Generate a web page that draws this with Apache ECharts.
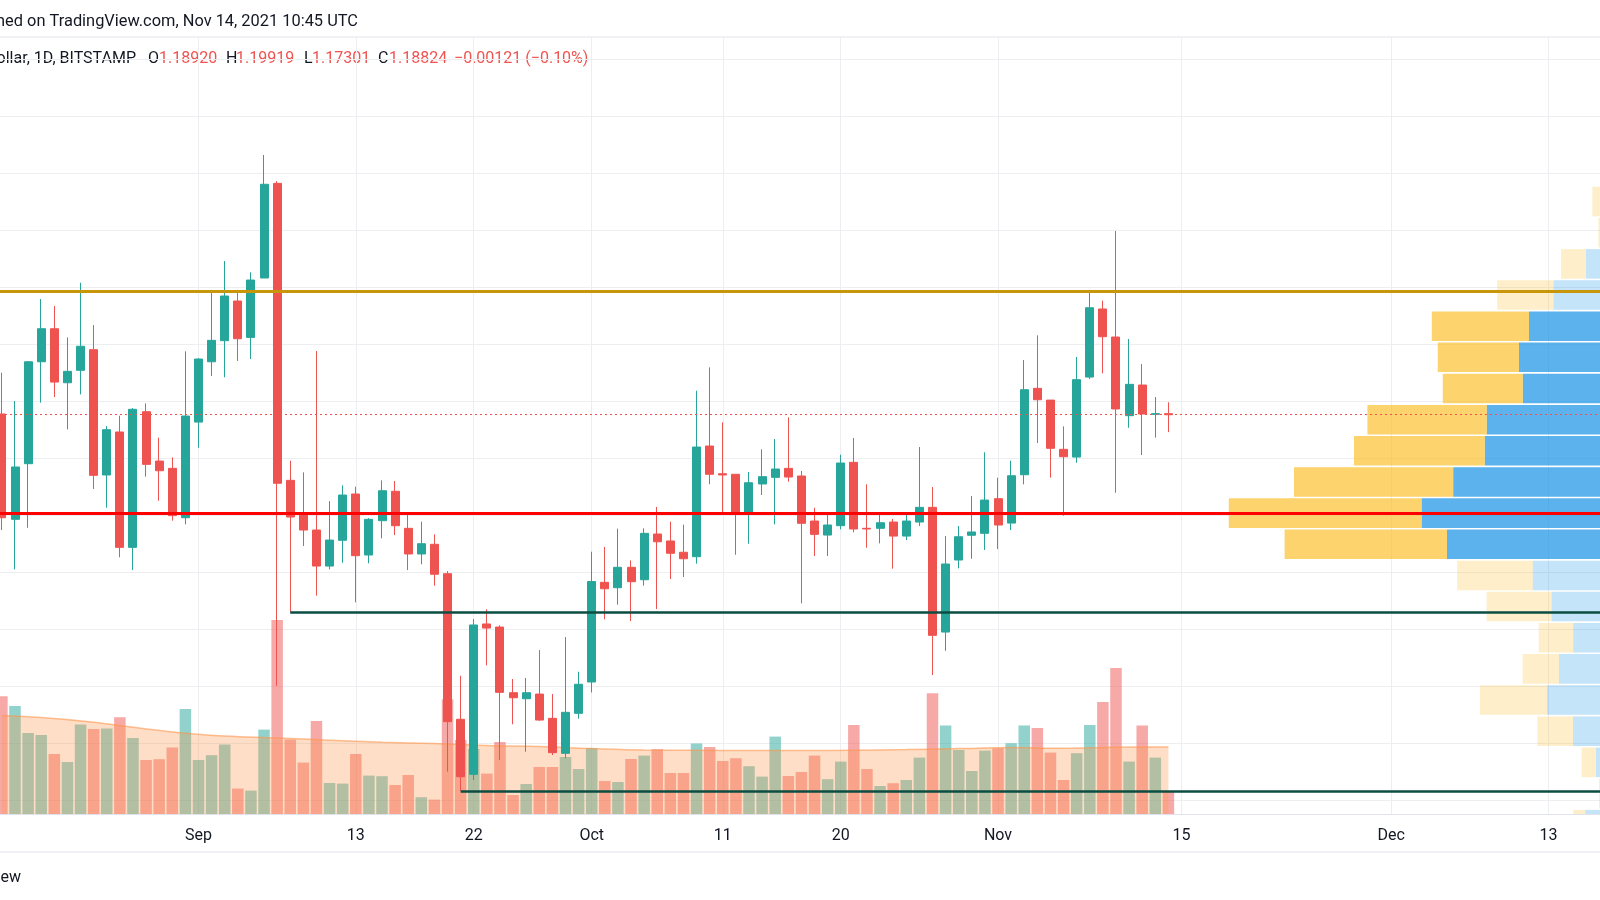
<!DOCTYPE html>
<html><head><meta charset="utf-8">
<script src="https://cdn.jsdelivr.net/npm/echarts@6/dist/echarts.min.js"></script>
<style>html,body{margin:0;padding:0;background:#fff}#chart{width:1600px;height:900px}</style>
</head><body><div id="chart"></div>
<script>
// ---------- data ----------
const dates = [
 '2021-08-17','2021-08-18','2021-08-19','2021-08-20','2021-08-21','2021-08-22','2021-08-23','2021-08-24','2021-08-25','2021-08-26','2021-08-27','2021-08-28','2021-08-29','2021-08-30','2021-08-31',
 '2021-09-01','2021-09-02','2021-09-03','2021-09-04','2021-09-05','2021-09-06','2021-09-07','2021-09-08','2021-09-09','2021-09-10','2021-09-11','2021-09-12','2021-09-13','2021-09-14','2021-09-15',
 '2021-09-16','2021-09-17','2021-09-18','2021-09-19','2021-09-20','2021-09-21','2021-09-22','2021-09-23','2021-09-24','2021-09-25','2021-09-26','2021-09-27','2021-09-28','2021-09-29','2021-09-30',
 '2021-10-01','2021-10-02','2021-10-03','2021-10-04','2021-10-05','2021-10-06','2021-10-07','2021-10-08','2021-10-09','2021-10-10','2021-10-11','2021-10-12','2021-10-13','2021-10-14','2021-10-15',
 '2021-10-16','2021-10-17','2021-10-18','2021-10-19','2021-10-20','2021-10-21','2021-10-22','2021-10-23','2021-10-24','2021-10-25','2021-10-26','2021-10-27','2021-10-28','2021-10-29','2021-10-30','2021-10-31',
 '2021-11-01','2021-11-02','2021-11-03','2021-11-04','2021-11-05','2021-11-06','2021-11-07','2021-11-08','2021-11-09','2021-11-10','2021-11-11','2021-11-12','2021-11-13','2021-11-14'];

const opens = [
 1.1889,1.0965,1.1453,1.2347,1.2637,1.2163,1.2272,1.2453,1.1354,1.1731,1.0719,1.1909,1.1476,1.1412,1.0979,
 1.1818,1.2347,1.2532,1.2880,1.2561,1.3082,1.3912,1.1307,1.1011,1.0871,1.0555,1.0781,1.1187,1.0652,1.0953,
 1.1211,1.0886,1.0661,1.0746,1.0488,0.9211,0.8728,1.0047,1.0020,0.9444,0.9391,0.9432,0.9219,0.8912,0.9263,
 0.9538,1.0412,1.0365,1.0544,1.0435,1.0836,1.0775,1.0676,1.0637,1.1608,1.1365,1.1360,1.1014,1.1275,1.1333,
 1.1412,1.1345,1.0950,1.0827,1.0909,1.1465,1.0886,1.0886,1.0941,1.0818,1.0941,1.1070,0.9976,1.0608,1.0825,1.0842,
 1.1146,1.0932,1.1356,1.2114,1.2011,1.1579,1.1511,1.2213,1.2810,1.2564,1.1874,1.2143,1.1886,1.18920];
const closes = [
 1.0979,1.1424,1.2347,1.2637,1.2169,1.2263,1.2483,1.1351,1.1751,1.0719,1.1930,1.1447,1.1391,1.0997,1.1871,
 1.2371,1.2535,1.2924,1.2549,1.3064,1.3904,1.1281,1.0985,1.0871,1.0555,1.0783,1.1178,1.0646,1.0965,1.1216,
 1.0909,1.0661,1.0751,1.0483,0.9190,0.8707,1.0038,1.0011,0.9447,0.9400,0.9444,0.9204,0.8918,0.9272,0.9518,
 1.0419,1.0356,1.0544,1.0418,1.0842,1.0768,1.0667,1.0619,1.1599,1.1360,1.1354,1.1018,1.1286,1.1339,1.1406,
 1.1336,1.0930,1.0833,1.0915,1.1459,1.0880,1.0880,1.0935,1.0818,1.0950,1.1070,0.9947,1.0573,1.0812,1.0854,1.1134,
 1.0915,1.1347,1.2102,1.2014,1.1588,1.1514,1.2190,1.2821,1.2567,1.1933,1.2149,1.1889,1.1892,1.18824];
const highs = [
 1.2251,1.2003,1.2354,1.2897,1.2836,1.2561,1.3040,1.2669,1.1783,1.1874,1.1941,1.1982,1.1681,1.1509,1.2439,
 1.2377,1.2961,1.3231,1.2961,1.3132,1.4161,1.3932,1.1479,1.1377,1.2441,1.1125,1.1263,1.1251,1.0976,1.1307,
 1.1301,1.1026,1.0944,1.0833,1.0511,0.9593,1.0090,1.0176,1.0035,0.9564,0.9573,0.9818,0.9432,0.9932,0.9628,
 1.0681,1.0722,1.0883,1.0605,1.0886,1.1073,1.0944,1.0918,1.2093,1.2298,1.1816,1.1360,1.1380,1.1579,1.1669,
 1.1860,1.1389,1.1067,1.1009,1.1532,1.1678,1.1272,1.1011,1.0968,1.1029,1.1599,1.1248,1.0818,1.0906,1.1169,1.1553,
 1.1330,1.1479,1.2362,1.2579,1.2011,1.1781,1.2389,1.2965,1.2883,1.3494,1.2547,1.2327,1.2038,1.19919];
const lows = [
 1.0871,1.0526,1.0891,1.1988,1.2038,1.1754,1.2061,1.1231,1.1067,1.0632,1.0520,1.1339,1.1128,1.0953,1.0921,
 1.1593,1.2222,1.2211,1.2354,1.2371,1.3082,0.9503,1.0150,1.0731,1.0295,1.0526,1.0584,1.0237,1.0579,1.0798,
 1.0827,1.0520,1.0570,1.0383,0.8751,0.8582,0.8678,0.9684,0.8854,0.9167,0.8926,0.9198,0.8897,0.8868,0.9216,
 0.9446,1.0088,1.0216,1.0073,1.0383,1.0178,1.0441,1.0459,1.0576,1.1272,1.1018,1.0654,1.0751,1.1178,1.0921,
 1.1295,1.0228,1.0643,1.0643,1.0877,1.0851,1.0716,1.0754,1.0532,1.0783,1.0906,0.9599,0.9812,1.0535,1.0619,1.0696,
 1.0704,1.0871,1.1272,1.1634,1.1330,1.0997,1.1461,1.2196,1.2246,1.1198,1.1768,1.1529,1.1681,1.17301];
// daily volume, millions
const volumes = [
 58.9,54.0,40.5,39.5,30.0,26.0,44.7,42.5,42.7,48.4,38.0,27.0,27.4,33.2,52.5,
 27.0,29.4,34.7,12.7,11.7,42.2,97.0,37.2,25.7,46.5,15.5,15.2,30.0,19.2,18.9,
 14.5,19.5,8.4,7.2,57.4,37.0,32.5,20.2,36.0,9.5,15.0,23.5,23.5,28.5,22.5,
 33.0,16.5,16.0,27.5,29.2,32.4,20.5,20.5,35.2,33.5,26.5,27.9,23.9,18.7,38.7,
 19.0,21.0,29.2,17.4,26.2,44.5,22.5,14.0,15.4,17.0,28.2,60.4,44.2,32.0,21.5,31.7,
 32.9,35.4,44.2,43.0,30.7,17.0,30.4,44.5,56.0,73.0,26.2,44.2,28.2,11.5];
// volume moving average, read at these dates
const maDates = ['2021-08-17','2021-08-20','2021-08-24','2021-08-27','2021-08-31','2021-09-03','2021-09-07','2021-09-11','2021-09-15','2021-09-19','2021-09-23','2021-09-27',
 '2021-10-01','2021-10-05','2021-10-09','2021-10-13','2021-10-17','2021-10-21','2021-10-25','2021-10-29','2021-11-02','2021-11-06','2021-11-10','2021-11-14'];
const maValues = [49.2,48.2,45.9,43.4,40.4,39.0,38.0,36.9,35.9,35.2,34.2,33.7,32.7,32.0,31.9,31.7,31.7,31.9,32.2,32.7,33.2,32.9,33.4,33.5];

const tickDates = ['2021-09-01','2021-09-13','2021-09-22','2021-10-01','2021-10-11','2021-10-20','2021-11-01','2021-11-15','2021-12-01','2021-12-13'];
const tickLabels = ['Sep','13','22','Oct','11','20','Nov','15','Dec','13'];
const priceGridLevels = [0.85,0.90,0.95,1.00,1.05,1.10,1.15,1.20,1.25,1.30,1.35,1.40,1.45,1.50];

const resistanceLevel = 1.2970;
const pivotLevel = 1.1018;
const supportLevel1 = 1.0150, supportStart1 = '2021-09-08';
const supportLevel2 = 0.8582, supportStart2 = '2021-09-21';
const lastClose = 1.18824;

// visible-range volume profile (rows from top to bottom), millions
const profileTopPrice = 1.3889;
const profileRowStep = 0.02733;
const profileUp =   [0,0,3.5,11.6,17.75,20.25,19.3,28.3,28.8,36.7,44.6,38.25,16.8,12.1,6.7,10.25,13.25,6.75,1.0,0,3.7];
const profileDown = [1.9,0.4,6.25,14.1,24.3,20.3,20.0,29.85,32.7,39.8,48.2,40.6,18.9,16.25,8.6,9.1,16.75,8.9,3.6,0.25,3.0];
const profileValueArea = [0,0,0,0,1,1,1,1,1,1,1,1,0,0,0,0,0,0,0,0,0];

const headerTitle = 'Published on TradingView.com, Nov 14, 2021 10:45 UTC';
const symbolTitle = 'XRP / U.S. Dollar, 1D, BITSTAMP';
const ohlcKeys = ['O','H','L','C'];
const ohlcValues = ['1.18920','1.19919','1.17301','1.18824'];
const changeText = '\u22120.00121 (\u22120.10%)';
const footerText = 'TradingView';

// ---------- chart ----------
const DAY = 86400000;
const ts = d => Date.parse(d + 'T00:00:00Z');
const SEP1 = ts('2021-09-01');
const X_MIN = SEP1 - 15.145 * DAY, X_MAX = SEP1 + 106.928 * DAY;
const PRICE_MIN = 0.8380, PRICE_MAX = 1.5196;
const VOL_MAX = 388.5;
const UP = '#26a69a', DOWN = '#ef5350';
const FONT = 'Roboto, "Noto Sans", sans-serif';

const candleData = dates.map((d, i) => [ts(d), opens[i], closes[i], lows[i], highs[i]]);
const volData = dates.map((d, i) => ({
  value: [ts(d), volumes[i]],
  itemStyle: { color: closes[i] >= opens[i] ? 'rgba(38,166,154,0.5)' : 'rgba(239,83,80,0.5)' }
}));
const maData = maDates.map((d, i) => [ts(d), maValues[i]]);
const profileData = profileUp.map((u, i) => [i, u, profileDown[i], profileValueArea[i]]);
const tickTs = tickDates.map(ts);

const chart = echarts.init(document.getElementById('chart'), null, { renderer: 'canvas' });

const LINE2_Y = 59;
const headerGraphics = [
  { type: 'line', shape: { x1: 0, y1: 37, x2: 1600, y2: 37 }, style: { stroke: '#e0e3eb', lineWidth: 1 }, silent: true },
  { type: 'line', shape: { x1: 0, y1: 852, x2: 1600, y2: 852 }, style: { stroke: '#e0e3eb', lineWidth: 1 }, silent: true },
  { type: 'text', x: 358, y: 22, style: { text: headerTitle, font: '16.4px ' + FONT, fill: '#131722', align: 'right', verticalAlign: 'middle' } },
  { type: 'text', x: 136, y: LINE2_Y, style: { text: symbolTitle, font: '16px ' + FONT, fill: '#131722', align: 'right', verticalAlign: 'middle' } },
  { type: 'text', x: 21, y: 878, style: { text: footerText, font: '16px ' + FONT, fill: '#131722', align: 'right', verticalAlign: 'middle' } }
];
const keyX = [148, 226, 304, 378], valX = [159, 236, 312, 389];
ohlcKeys.forEach((k, i) => {
  headerGraphics.push({ type: 'text', x: keyX[i], y: LINE2_Y, style: { text: k, font: '16px ' + FONT, fill: '#131722', verticalAlign: 'middle' } });
  headerGraphics.push({ type: 'text', x: valX[i], y: LINE2_Y, style: { text: ohlcValues[i], font: '16px ' + FONT, fill: DOWN, verticalAlign: 'middle' } });
});
headerGraphics.push({ type: 'text', x: 454, y: LINE2_Y, style: { text: changeText, font: '16px ' + FONT, fill: DOWN, verticalAlign: 'middle' } });

const option = {
  animation: false,
  backgroundColor: '#ffffff',
  grid: { left: 0, right: 0, top: 37, bottom: 86, containLabel: false },
  xAxis: [
    {
      type: 'value', min: X_MIN, max: X_MAX, gridIndex: 0,
      axisLine: { show: true, onZero: false, lineStyle: { color: '#e0e3eb', width: 1 } },
      axisTick: { show: false },
      splitLine: { show: false },
      axisLabel: {
        customValues: tickTs,
        formatter: v => { const k = tickTs.indexOf(v); return k >= 0 ? tickLabels[k] : ''; },
        color: '#131722', fontSize: 16, fontFamily: FONT, margin: 14
      }
    },
    { type: 'value', min: 0, max: 400, inverse: true, show: false, gridIndex: 0, splitLine: { show: false } }
  ],
  yAxis: [
    { type: 'value', min: PRICE_MIN, max: PRICE_MAX, show: false, splitLine: { show: false } },
    { type: 'value', min: 0, max: VOL_MAX, show: false, splitLine: { show: false } }
  ],
  graphic: headerGraphics,
  series: [
    {
      name: 'grid', type: 'line', data: [], xAxisIndex: 0, yAxisIndex: 0, z: 0, silent: true,
      markLine: {
        z: 0, precision: 10, silent: true, symbol: ['none', 'none'], animation: false, label: { show: false },
        lineStyle: { color: '#eceef2', width: 1, type: 'solid' },
        data: priceGridLevels.map(v => ({ yAxis: v })).concat(tickTs.map(t => ({ xAxis: t })))
      }
    },
    {
      name: 'Volume', type: 'bar', data: volData, xAxisIndex: 0, yAxisIndex: 1,
      barWidth: 11.5, z: 1, silent: true
    },
    {
      name: 'Volume MA', type: 'line', data: maData, xAxisIndex: 0, yAxisIndex: 1,
      smooth: 0.4, symbol: 'none', z: 2, silent: true,
      lineStyle: { color: 'rgba(253,150,76,0.6)', width: 1.5 },
      areaStyle: { color: 'rgba(253,150,76,0.45)' }
    },
    {
      name: 'Volume profile', type: 'custom', data: profileData, xAxisIndex: 1, yAxisIndex: 0, z: 2, silent: true,
      renderItem: (params, api) => {
        const i = api.value(0), up = api.value(1), down = api.value(2), va = api.value(3);
        const top = profileTopPrice - i * profileRowStep, bot = top - profileRowStep;
        const pTop = api.coord([0, top]), pBot = api.coord([0, bot]);
        const y = pTop[1] + 0.8, h = pBot[1] - pTop[1] - 1.6;
        const xR = pTop[0];
        const xUp = api.coord([up, top])[0];
        const xDn = api.coord([up + down, top])[0];
        const cs = params.coordSys;
        const clip = r => echarts.graphic.clipRectByRect(r, { x: cs.x, y: cs.y, width: cs.width, height: cs.height });
        const children = [];
        const r1 = clip({ x: xUp, y: y, width: xR - xUp, height: h });
        if (r1 && up > 0) children.push({ type: 'rect', shape: r1, style: { fill: va ? 'rgba(21,146,230,0.7)' : 'rgba(21,146,230,0.25)' } });
        const r2 = clip({ x: xDn, y: y, width: xUp - xDn, height: h });
        if (r2 && down > 0) children.push({ type: 'rect', shape: r2, style: { fill: va ? 'rgba(251,192,45,0.7)' : 'rgba(251,192,45,0.25)' } });
        return { type: 'group', children };
      }
    },
    {
      name: 'XRPUSD', type: 'candlestick', data: candleData, xAxisIndex: 0, yAxisIndex: 0,
      encode: { x: 0, y: [1, 2, 3, 4] },
      barWidth: 8.5, z: 3, silent: true,
      itemStyle: { color: UP, color0: DOWN, borderColor: UP, borderColor0: DOWN, borderWidth: 1 }
    },
    {
      name: 'levels', type: 'line', data: [], xAxisIndex: 0, yAxisIndex: 0, z: 5, silent: true,
      markLine: {
        z: 10, precision: 10, silent: true, symbol: ['none', 'none'], animation: false, label: { show: false },
        data: [
          { yAxis: lastClose, lineStyle: { color: DOWN, width: 1, type: [2, 3] } },
          { yAxis: resistanceLevel, lineStyle: { color: '#c8960a', width: 3, type: 'solid' } },
          { yAxis: pivotLevel, lineStyle: { color: '#ff0000', width: 3, type: 'solid' } },
          [ { coord: [ts(supportStart1), supportLevel1], lineStyle: { color: '#0b4d40', width: 2.5, type: 'solid' } }, { coord: [X_MAX, supportLevel1] } ],
          [ { coord: [ts(supportStart2), supportLevel2], lineStyle: { color: '#0b4d40', width: 2.5, type: 'solid' } }, { coord: [X_MAX, supportLevel2] } ]
        ]
      }
    }
  ]
};
chart.setOption(option);
</script>
</body></html>
